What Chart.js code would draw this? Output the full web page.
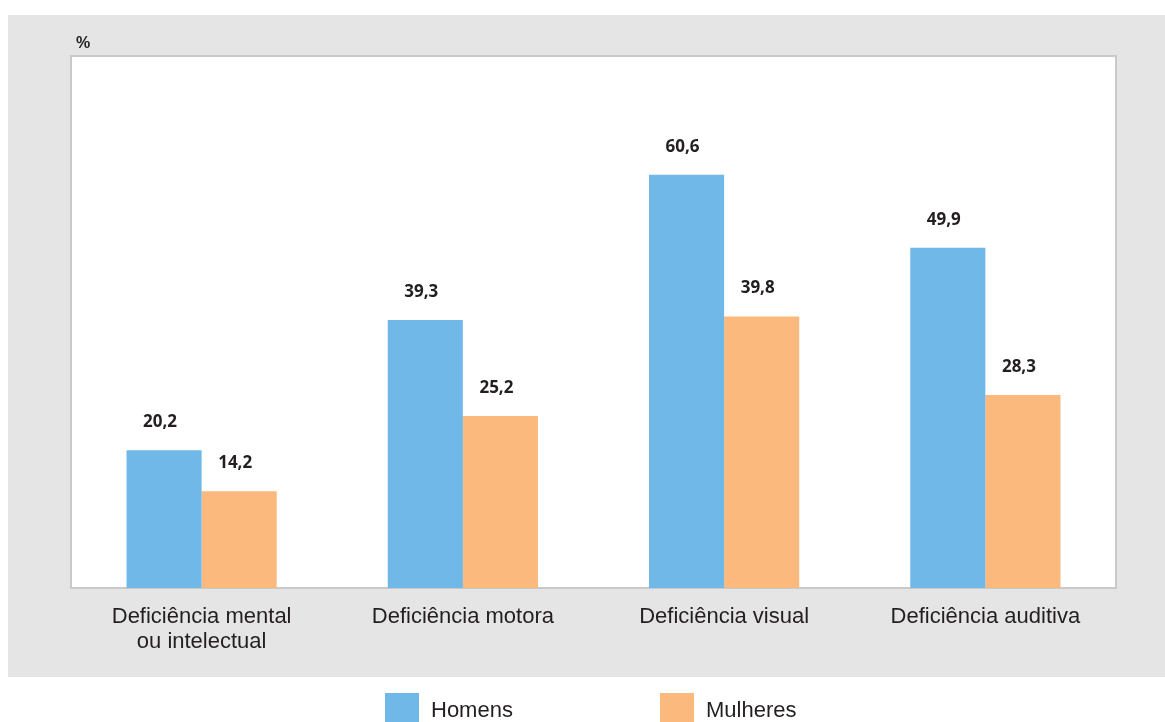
<!DOCTYPE html>
<html>
<head>
<meta charset="utf-8">
<script src="https://cdn.jsdelivr.net/npm/chart.js@4/dist/chart.umd.min.js"></script>
<style>
  html, body { margin: 0; padding: 0; background: #fff; }
  #wrap { width: 1165px; height: 722px; }
</style>
</head>
<body>
<div id="wrap"><canvas id="chartCanvas" width="1165" height="722"></canvas></div>
<script>
const categories = [['Deficiência mental', 'ou intelectual'], 'Deficiência motora', 'Deficiência visual', 'Deficiência auditiva'];
const homens = [20.2, 39.3, 60.6, 49.9];
const mulheres = [14.2, 25.2, 39.8, 28.3];
const seriesNames = ['Homens', 'Mulheres'];
const unitLabel = '%';

const textColor = '#231f20';
const sansFamily = '"Liberation Sans", Arial, sans-serif';
const valueFamily = '"Open Sans", "Liberation Sans", Arial, sans-serif';

// gray panel + white plot box + "%" label
const backgroundPlugin = {
  id: 'panel',
  beforeDraw(chart) {
    const ctx = chart.ctx;
    const a = chart.chartArea;
    ctx.save();
    ctx.fillStyle = '#e5e5e5';
    ctx.fillRect(8, 15, 1157, 662);
    ctx.fillStyle = '#ffffff';
    ctx.fillRect(a.left, a.top, a.right - a.left, a.bottom - a.top);
    ctx.strokeStyle = '#c9c9c9';
    ctx.lineWidth = 2;
    ctx.strokeRect(a.left, a.top, a.right - a.left, a.bottom - a.top);
    ctx.fillStyle = textColor;
    ctx.font = 'bold 16px ' + sansFamily;
    ctx.textAlign = 'left';
    ctx.textBaseline = 'middle';
    ctx.fillText(unitLabel, 76, 44);
    ctx.restore();
  }
};

// values over bars + legend under the panel
const labelsPlugin = {
  id: 'valueLabels',
  afterDatasetsDraw(chart) {
    const ctx = chart.ctx;
    ctx.save();
    ctx.fillStyle = textColor;
    ctx.font = 'bold 17px ' + valueFamily;
    ctx.textAlign = 'center';
    ctx.textBaseline = 'middle';
    chart.data.datasets.forEach((ds, i) => {
      chart.getDatasetMeta(i).data.forEach((bar, j) => {
        const txt = ds.data[j].toFixed(1).replace('.', ',');
        ctx.fillText(txt, bar.x - 4, bar.y - 28);
      });
    });

    // legend
    const legendX = [385, 660];
    ctx.font = '22px ' + sansFamily;
    ctx.textAlign = 'left';
    chart.data.datasets.forEach((ds, i) => {
      ctx.fillStyle = ds.backgroundColor;
      ctx.fillRect(legendX[i], 693, 34, 34);
      ctx.fillStyle = textColor;
      ctx.fillText(ds.label, legendX[i] + 46, 711);
    });
    ctx.restore();
  }
};

new Chart(document.getElementById('chartCanvas'), {
  type: 'bar',
  data: {
    labels: categories,
    datasets: [{
      label: seriesNames[0],
      data: homens,
      backgroundColor: '#6fb8e7'
    }, {
      label: seriesNames[1],
      data: mulheres,
      backgroundColor: '#fbb97e'
    }]
  },
  options: {
    responsive: false,
    animation: false,
    events: [],
    layout: { padding: { left: 71, top: 56, right: 49, bottom: 0 } },
    datasets: {
      bar: { categoryPercentage: 0.575, barPercentage: 1.0 }
    },
    plugins: {
      legend: { display: false },
      tooltip: { enabled: false }
    },
    scales: {
      x: {
        grid: { display: false, drawTicks: false },
        border: { display: false },
        ticks: {
          color: textColor,
          padding: 16,
          maxRotation: 0,
          autoSkip: false,
          font: { family: sansFamily, size: 22, lineHeight: 1.14 }
        },
        afterFit(scale) { scale.height = 134; }
      },
      y: {
        display: false,
        min: 0,
        max: 78
      }
    }
  },
  plugins: [backgroundPlugin, labelsPlugin]
});
</script>
</body>
</html>
